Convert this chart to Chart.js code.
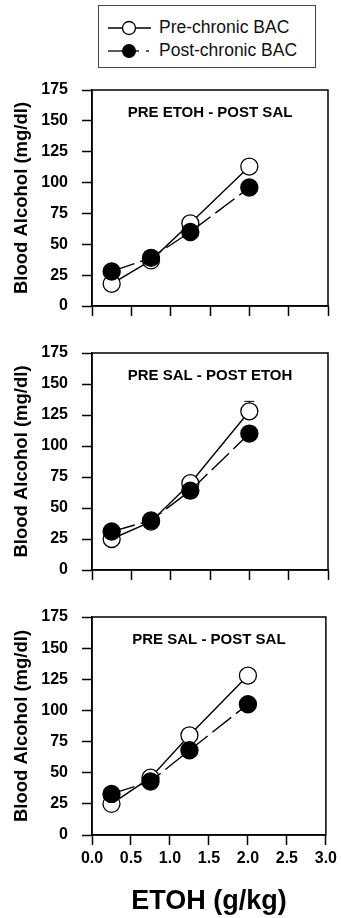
<!DOCTYPE html>
<html>
<head>
<meta charset="utf-8">
<script src="https://cdn.jsdelivr.net/npm/chart.js@4.4.1/dist/chart.umd.min.js"></script>
<style>
	body { margin: 0; background: #fff; width: 341px; height: 918px; position: relative; overflow: hidden; font-family: "Liberation Sans", Arial, sans-serif; }
	.panel { position: absolute; left: 0; width: 341px; }
	#legend { position: absolute; left: 98px; top: 5px; width: 218px; height: 63px; border: 1px solid #444; box-sizing: border-box; }
	.row { position: absolute; left: 0; height: 20px; width: 100%; }
	.row svg { position: absolute; left: 8px; top: 0; }
	.row span { position: absolute; left: 60px; top: -1px; font-size: 17.5px; color: #111; white-space: nowrap; }
</style>
</head>
<body>
<div id="legend">
	<div class="row" style="top:12px">
		<svg width="46" height="20"><line x1="1" y1="10" x2="44" y2="10" stroke="#000" stroke-width="1.3"/><circle cx="22" cy="10" r="6.5" fill="#fff" stroke="#000" stroke-width="1.3"/></svg>
		<span>Pre-chronic BAC</span>
	</div>
	<div class="row" style="top:35px">
		<svg width="46" height="20"><line x1="1" y1="10" x2="32" y2="10" stroke="#000" stroke-width="1.3"/><line x1="39" y1="10" x2="42" y2="10" stroke="#000" stroke-width="1.3"/><circle cx="22" cy="10" r="7" fill="#000"/></svg>
		<span>Post-chronic BAC</span>
	</div>
</div>
<div class="panel" style="top:78px;height:242px"><canvas id="c1"></canvas></div>
<div class="panel" style="top:341px;height:243px"><canvas id="c2"></canvas></div>
<div class="panel" style="top:605px;height:313px"><canvas id="c3"></canvas></div>
<script>
// doses (g/kg)
var doses = [0.25, 0.75, 1.25, 2.0];
var xTicks = [0, 0.5, 1.0, 1.5, 2.0, 2.5, 3.0];
var yTicks = [0, 25, 50, 75, 100, 125, 150, 175];

var titles = ["PRE ETOH - POST SAL", "PRE SAL - POST ETOH", "PRE SAL - POST SAL"];

// blood alcohol, mg/dl
var pre1 = [18, 37, 67, 113];
var post1 = [28, 39, 60, 96];
var pre2 = [25, 39, 70, 128];
var post2 = [31, 40, 64, 110];
var pre3 = [25, 46, 80, 128];
var post3 = [33, 43, 68, 105];

// error (only the one sticking out of its marker is visible)
var preErr2 = [0, 0, 0, 8];

var black = "#000";
var font = "'Liberation Sans', Arial, sans-serif";

function pts(vals) {
	var out = [];
	for (var i in vals) out.push({x: doses[i], y: vals[i]});
	return out;
}

var boxPlugin = {
	id: 'box',
	afterDraw: function(chart) {
		var a = chart.chartArea, ctx = chart.ctx;
		ctx.save();
		ctx.strokeStyle = black;
		ctx.lineWidth = 1.5;
		ctx.strokeRect(a.left, a.top, a.right - a.left, a.bottom - a.top);
		ctx.restore();
	}
};

var errPlugin = {
	id: 'errbars',
	beforeDatasetsDraw: function(chart) {
		var ctx = chart.ctx;
		chart.data.datasets.forEach(function(ds, di) {
			if (!ds.err) return;
			var meta = chart.getDatasetMeta(di);
			ds.err.forEach(function(e, i) {
				if (!e) return;
				var x = meta.data[i].x;
				var y1 = chart.scales.y.getPixelForValue(ds.data[i].y + e);
				var y0 = chart.scales.y.getPixelForValue(ds.data[i].y);
				ctx.save();
				ctx.strokeStyle = black;
				ctx.lineWidth = 1;
				ctx.beginPath();
				ctx.moveTo(x, y0); ctx.lineTo(x, y1);
				ctx.moveTo(x - 5, y1); ctx.lineTo(x + 5, y1);
				ctx.stroke();
				ctx.restore();
			});
		});
	}
};

function makeChart(id, pre, post, title, preErr, showX) {
	var ctx = document.getElementById(id);
	return new Chart(ctx, {
		type: 'scatter',
		data: {
			datasets: [
				{
					label: 'Pre-chronic BAC',
					data: pts(pre),
					err: preErr,
					showLine: true,
					borderColor: black,
					borderWidth: 1.4,
					backgroundColor: "#fff",
					pointBackgroundColor: "#fff",
					pointBorderColor: black,
					pointBorderWidth: 1.3,
					pointRadius: 8.5,
					order: 2
				},
				{
					label: 'Post-chronic BAC',
					data: pts(post),
					showLine: true,
					borderColor: black,
					borderWidth: 1.4,
					borderDash: [24, 6],
					backgroundColor: black,
					pointBackgroundColor: black,
					pointBorderColor: black,
					pointRadius: 8.5,
					order: 1
				}
			]
		},
		options: {
			responsive: true,
			maintainAspectRatio: false,
			animation: false,
			events: [],
			layout: { padding: { top: 12, right: 13, left: 0, bottom: 0 } },
			plugins: {
				legend: { display: false },
				tooltip: { enabled: false },
				title: { display: false },
				subtitle: { display: false }
			},
			scales: {
				x: {
					type: 'linear',
					min: 0, max: 3,
					afterBuildTicks: function(s) { s.ticks = xTicks.map(function(v) { return {value: v}; }); },
					afterFit: function(s) { s.height = showX ? 83 : 14; },
					grid: { drawOnChartArea: false, tickLength: 10, color: black, tickWidth: 1.5 },
					border: { color: black, width: 1.5 },
					ticks: {
						display: showX,
						color: black,
						padding: 4,
						font: { family: font, size: 16, weight: 'bold' },
						callback: function(v) { return v.toFixed(1); }
					},
					title: {
						display: showX,
						text: 'ETOH (g/kg)',
						color: black,
						padding: { top: 1, bottom: 0 },
						font: { family: font, size: 27, weight: 'bold' }
					}
				},
				y: {
					min: 0, max: 175,
					afterBuildTicks: function(s) { s.ticks = yTicks.map(function(v) { return {value: v}; }); },
					afterFit: function(s) { s.width = 92; s.paddingTop = 0; s.paddingBottom = 0; },
					grid: { drawOnChartArea: false, tickLength: 10, color: black, tickWidth: 1.5 },
					border: { color: black, width: 1.5 },
					ticks: {
						color: black,
						padding: 14,
						font: { family: font, size: 16, weight: 'bold' }
					},
					title: {
						display: true,
						text: 'Blood Alcohol (mg/dl)',
						color: black,
						padding: { top: 11, bottom: 0 },
						font: { family: font, size: 18.5, weight: 'bold' }
					}
				}
			}
		},
		plugins: [boxPlugin, errPlugin, {
			id: 'panelTitle',
			afterDraw: function(chart) {
				var a = chart.chartArea, c = chart.ctx;
				c.save();
				c.fillStyle = black;
				c.font = "bold 15px " + font;
				c.textAlign = 'center';
				c.textBaseline = 'middle';
				c.fillText(title, (a.left + a.right) / 2, a.top + 23);
				c.restore();
			}
		}]
	});
}

makeChart("c1", pre1, post1, titles[0], null, false);
makeChart("c2", pre2, post2, titles[1], preErr2, false);
makeChart("c3", pre3, post3, titles[2], null, true);
</script>
</body>
</html>
